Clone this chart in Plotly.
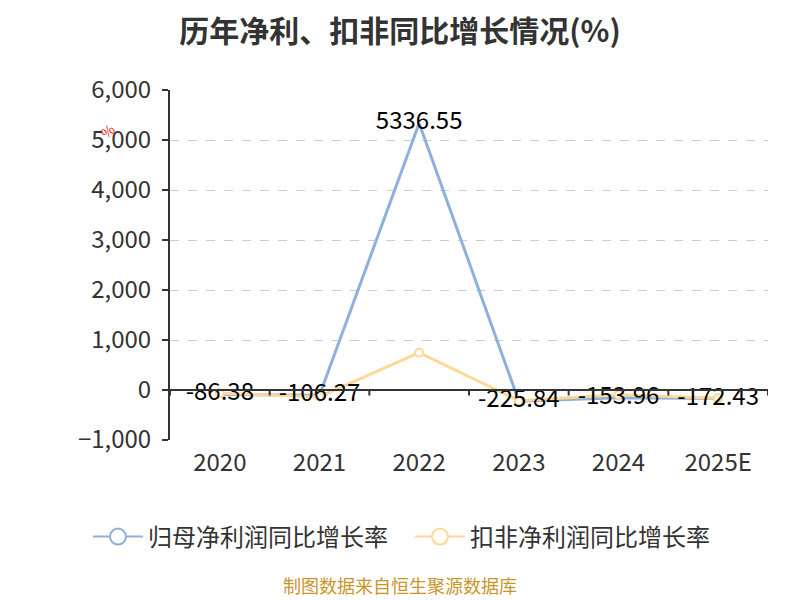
import plotly.graph_objects as go

years = ["2020", "2021", "2022", "2023", "2024", "2025E"]
net_profit_growth = [-86.38, -106.27, 5336.55, -225.84, -153.96, -172.43]
deducted_growth = [-66, -134, 746, -213, -93, -167]
y_ticks = [-1000, 0, 1000, 2000, 3000, 4000, 5000, 6000]
legend_names = ["归母净利润同比增长率", "扣非净利润同比增长率"]

BLUE = "#8fb0dc"
ORANGE = "#ffd898"
FONT = "Noto Sans CJK SC"

fig = go.Figure()
fig.add_trace(
    go.Scatter(
        x=years,
        y=net_profit_growth,
        mode="lines",
        line=dict(color=BLUE, width=3),
        showlegend=False,
        cliponaxis=False,
    )
)
fig.add_trace(
    go.Scatter(
        x=years,
        y=deducted_growth,
        mode="lines+markers",
        line=dict(color=ORANGE, width=3),
        marker=dict(size=8, color="white", line=dict(color=ORANGE, width=2)),
        showlegend=False,
        cliponaxis=False,
    )
)
# value labels of the blue series, drawn on top
fig.add_trace(
    go.Scatter(
        x=years,
        y=net_profit_growth,
        mode="text",
        text=[f"{v:.2f}" for v in net_profit_growth],
        textposition="middle center",
        textfont=dict(color="#000000", size=24, family=FONT),
        showlegend=False,
        hoverinfo="skip",
        cliponaxis=False,
    )
)

# legend entries, one legend each so they stay on one row
for i, (name, color) in enumerate(zip(legend_names, [BLUE, ORANGE])):
    fig.add_trace(
        go.Scatter(
            x=[None],
            y=[None],
            mode="lines+markers",
            line=dict(color=color, width=2),
            marker=dict(size=20, color="white", line=dict(color=color, width=2)),
            name=name,
            legend="legend" if i == 0 else "legend2",
        )
    )

# x axis line at zero with ticks at category boundaries
fig.add_shape(type="line", xref="paper", yref="y", x0=0, x1=1, y0=0, y1=0,
              line=dict(color="#333333", width=2))
for i in range(len(years) + 1):
    fig.add_shape(type="line", xref="x", yref="y", x0=i - 0.5, x1=i - 0.5, y0=0, y1=-110,
                  line=dict(color="#333333", width=2))

legend_style = dict(
    orientation="h",
    xanchor="left",
    y=(432 - 529) / 350,
    yanchor="middle",
    font=dict(size=24, color="#333333"),
    itemwidth=50,
    bgcolor="rgba(0,0,0,0)",
)

fig.update_layout(
    width=792,
    height=592,
    margin=dict(l=162, r=32, t=82, b=160),
    plot_bgcolor="white",
    paper_bgcolor="white",
    font=dict(family=FONT, color="#333333"),
    title=dict(
        text="<b>历年净利、扣非同比增长情况(%)</b>",
        x=0.5 - 4 / 792,
        xanchor="center",
        y=1 - 23 / 592,
        yanchor="middle",
        font=dict(size=30, color="#333333", family=FONT),
    ),
    xaxis=dict(
        type="category",
        range=[-0.5, 5.5],
        showgrid=False,
        showline=False,
        ticks="",
        ticklabelstandoff=6,
        tickfont=dict(size=24, color="#333333"),
        fixedrange=True,
    ),
    yaxis=dict(
        range=[-1000, 6000],
        tickvals=y_ticks,
        tickformat=",",
        showgrid=True,
        gridcolor="#cccccc",
        griddash="dash",
        gridwidth=1,
        zeroline=False,
        showline=True,
        linecolor="#333333",
        linewidth=2,
        ticks="outside",
        ticklen=6,
        tickwidth=2,
        tickcolor="#333333",
        tickfont=dict(size=24, color="#333333"),
        ticklabelstandoff=6,
    ),
    legend=dict(legend_style, x=(80 - 162) / 598),
    legend2=dict(legend_style, x=(402 - 162) / 598),
    annotations=[
        dict(
            text="制图数据来自恒生聚源数据库",
            xref="paper",
            yref="paper",
            x=(392 - 162) / 598,
            y=(432 - 577) / 350,
            xanchor="center",
            yanchor="middle",
            showarrow=False,
            font=dict(size=18, color="#c9952b"),
        ),
        dict(
            text="%",
            xref="paper",
            yref="paper",
            x=(99 - 162) / 598,
            y=(432 - 123) / 350,
            xanchor="center",
            yanchor="middle",
            showarrow=False,
            textangle=-40,
            font=dict(size=14, color="#ee2222"),
        ),
    ],
)

fig.write_html("out.html")
